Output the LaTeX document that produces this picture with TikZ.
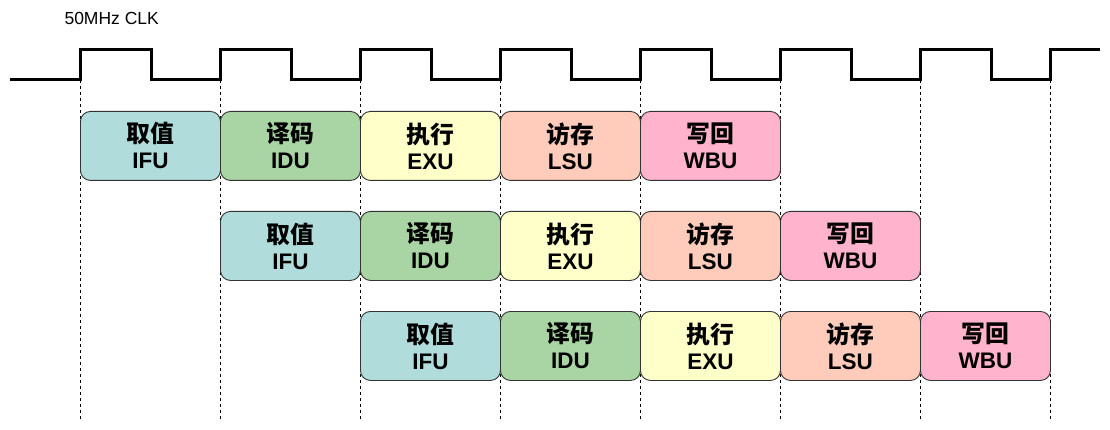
\documentclass[tikz,border=0pt]{standalone}
\usepackage{fontspec}
\setmainfont{Liberation Sans}
\newfontfamily\cjk{Noto Sans CJK SC}[Scale=1.06]
\definecolor{cifu}{HTML}{B0DDDC}
\definecolor{cidu}{HTML}{A8D5A3}
\definecolor{cexu}{HTML}{FFFFC9}
\definecolor{clsu}{HTML}{FFCCBC}
\definecolor{cwbu}{HTML}{FFB3CD}
\tikzset{
  stage/.style={draw=black!80, line width=0.9pt, rounded corners=10pt, minimum height=69pt,
    anchor=north west, align=center, inner sep=0pt,
    font=\fontsize{22.5}{26}\selectfont\bfseries},
  guide/.style={dash pattern=on 3pt off 3pt, line width=0.8pt, black},
  clk/.style={line width=3pt, black, line join=miter}
}
\newcommand{\stg}[2]{{\cjk\bfseries #1}\\#2}
\begin{document}
\begin{tikzpicture}[x=1pt,y=-1pt]
\useasboundingbox (0,0) rectangle (1110,430);
\node[anchor=west, font=\fontsize{17.5}{20}\selectfont] (title) at (61,18) {50MHz CLK};
% guides
\foreach \x/\n in {80/g1,220/g2,360/g3,500/g4,640/g5,780/g6,920/g7,1050/g8}{
  \coordinate (\n t) at (\x,80);
  \coordinate (\n b) at (\x,421);
  \draw[guide] (\n t) -- (\n b);
}
% clock
\draw[clk] (10,80) -- (80,80) -- (80,50) -- (151,50) -- (151,80) -- (220,80) -- (220,50) -- (291,50) -- (291,80)
  -- (360,80) -- (360,50) -- (431,50) -- (431,80) -- (500,80) -- (500,50) -- (571,50) -- (571,80)
  -- (640,80) -- (640,50) -- (711,50) -- (711,80) -- (780,80) -- (780,50) -- (851,50) -- (851,80)
  -- (920,80) -- (920,50) -- (991,50) -- (991,80) -- (1050,80) -- (1050,50) -- (1100,50);
% row 1
\node[stage, fill=cifu, minimum width=140pt] (r1a) at (80,111) {\stg{取值}{IFU}};
\node[stage, fill=cidu, minimum width=140pt] (r1b) at (220,111) {\stg{译码}{IDU}};
\node[stage, fill=cexu, minimum width=140pt] (r1c) at (360,111) {\stg{执行}{EXU}};
\node[stage, fill=clsu, minimum width=140pt] (r1d) at (500,111) {\stg{访存}{LSU}};
\node[stage, fill=cwbu, minimum width=140pt] (r1e) at (640,111) {\stg{写回}{WBU}};
% row 2
\node[stage, fill=cifu, minimum width=140pt] (r2a) at (220,211) {\stg{取值}{IFU}};
\node[stage, fill=cidu, minimum width=140pt] (r2b) at (360,211) {\stg{译码}{IDU}};
\node[stage, fill=cexu, minimum width=140pt] (r2c) at (500,211) {\stg{执行}{EXU}};
\node[stage, fill=clsu, minimum width=140pt] (r2d) at (640,211) {\stg{访存}{LSU}};
\node[stage, fill=cwbu, minimum width=140pt] (r2e) at (780,211) {\stg{写回}{WBU}};
% row 3
\node[stage, fill=cifu, minimum width=140pt] (r3a) at (360,311) {\stg{取值}{IFU}};
\node[stage, fill=cidu, minimum width=140pt] (r3b) at (500,311) {\stg{译码}{IDU}};
\node[stage, fill=cexu, minimum width=140pt] (r3c) at (640,311) {\stg{执行}{EXU}};
\node[stage, fill=clsu, minimum width=140pt] (r3d) at (780,311) {\stg{访存}{LSU}};
\node[stage, fill=cwbu, minimum width=130pt] (r3e) at (920,311) {\stg{写回}{WBU}};
\end{tikzpicture}
\end{document}
